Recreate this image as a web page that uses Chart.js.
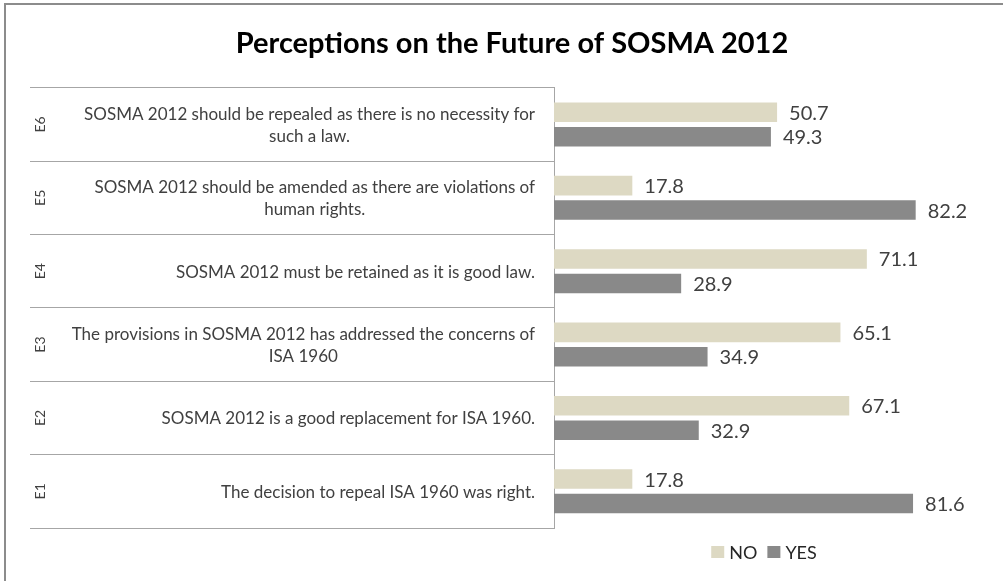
<!DOCTYPE html>
<html><head><meta charset="utf-8">
<script src="https://cdn.jsdelivr.net/npm/chart.js@4.4.0/dist/chart.umd.min.js"></script>
<style>html,body{margin:0;padding:0;background:#fff;} canvas{display:block;}</style>
</head><body>
<canvas id="c" width="1003" height="581"></canvas>
<script>
const categories = ['E6','E5','E4','E3','E2','E1'];
const statements = [
  ['SOSMA 2012 should be repealed as there is no necessity for','such a law.'],
  ['SOSMA 2012 should be amended as there are violations of','human rights.'],
  ['SOSMA 2012 must be retained as it is good law.'],
  ['The provisions in SOSMA 2012 has addressed the concerns of','ISA 1960'],
  ['SOSMA 2012 is a good replacement for ISA 1960.'],
  ['The decision to repeal ISA 1960 was right.']
];
const seriesNames = ['NO','YES'];
const noValues = [50.7, 17.8, 71.1, 65.1, 67.1, 17.8];
const yesValues = [49.3, 82.2, 28.9, 34.9, 32.9, 81.6];
const xMin = 0, xMax = 100;
const titleText = 'Perceptions on the Future of SOSMA 2012';
const seriesColors = ['#DDD9C3', '#898989'];
const FONT = 'Lato, "Open Sans", sans-serif';

const framePlugin = {
  id: 'frame',
  beforeDraw(chart) {
    const ctx = chart.ctx;
    ctx.save();
    ctx.fillStyle = '#fff';
    ctx.fillRect(0, 0, chart.width, chart.height);
    ctx.strokeStyle = '#8c8c8c';
    ctx.lineWidth = 2;
    ctx.strokeRect(5, 4, chart.width + 20, chart.height + 20);
    ctx.restore();
  }
};

const categoryLabelPlugin = {
  id: 'catLabels',
  afterDraw(chart) {
    const ctx = chart.ctx;
    const y = chart.scales.y;
    ctx.save();
    ctx.fillStyle = '#404040';
    categories.forEach((cat, i) => {
      const yc = y.getPixelForValue(i);
      ctx.save();
      ctx.translate(40, yc);
      ctx.rotate(-Math.PI / 2);
      ctx.font = '14px ' + FONT;
      ctx.textAlign = 'center';
      ctx.textBaseline = 'middle';
      ctx.fillText(cat, 0, 0);
      ctx.restore();
      ctx.font = '17px ' + FONT;
      ctx.textBaseline = 'middle';
      ctx.textAlign = 'center';
      const lines = statements[i];
      const w = Math.max(...lines.map(l => ctx.measureText(l).width));
      const right = chart.chartArea.left - 19;
      const cx = right - w / 2;
      const lh = 22;
      const y0 = yc + 1 - (lines.length - 1) * lh / 2;
      lines.forEach((l, k) => ctx.fillText(l, cx, y0 + k * lh));
    });
    ctx.restore();
  }
};

const dataLabelPlugin = {
  id: 'dataLabels',
  afterDatasetsDraw(chart) {
    const ctx = chart.ctx;
    ctx.save();
    ctx.font = '20px ' + FONT;
    ctx.fillStyle = '#404040';
    ctx.textAlign = 'left';
    ctx.textBaseline = 'middle';
    chart.data.datasets.forEach((ds, di) => {
      const meta = chart.getDatasetMeta(di);
      meta.data.forEach((bar, i) => {
        ctx.fillText(ds.data[i].toFixed(1), bar.x + 12, bar.y + 1);
      });
    });
    ctx.restore();
  }
};

const legendPlugin = {
  id: 'customLegend',
  afterDraw(chart) {
    const ctx = chart.ctx;
    ctx.save();
    ctx.font = '18px ' + FONT;
    ctx.textBaseline = 'middle';
    ctx.textAlign = 'left';
    const box = 13, gapBoxText = 5, gapItems = 10;
    const items = chart.data.datasets.map(ds => ({ label: ds.label, color: ds.backgroundColor, w: ctx.measureText(ds.label).width }));
    const total = items.reduce((s, it) => s + box + gapBoxText + it.w, 0) + gapItems * (items.length - 1);
    const cx = (chart.chartArea.left + chart.chartArea.right) / 2 - 10;
    let x = cx - total / 2;
    const yc = 552;
    items.forEach(it => {
      ctx.fillStyle = it.color;
      ctx.fillRect(x, yc - 6, box, 12);
      x += box + gapBoxText;
      ctx.fillStyle = '#262626';
      ctx.fillText(it.label, x, yc + 1);
      x += it.w + gapItems;
    });
    ctx.restore();
  }
};

new Chart(document.getElementById('c'), {
  type: 'bar',
  data: {
    labels: categories,
    datasets: [
      { label: seriesNames[0], data: noValues, backgroundColor: seriesColors[0] },
      { label: seriesNames[1], data: yesValues, backgroundColor: seriesColors[1] }
    ]
  },
  options: {
    indexAxis: 'y',
    responsive: false,
    animation: false,
    devicePixelRatio: 1,
    categoryPercentage: 0.667,
    barPercentage: 0.8,
    layout: { padding: { left: 30, right: 9, top: 0, bottom: 53 } },
    scales: {
      x: { display: false, min: xMin, max: xMax },
      y: {
        grid: { offset: true, drawOnChartArea: false, tickLength: 524, color: '#a6a6a6', lineWidth: 1 },
        border: { color: '#a6a6a6', width: 1 },
        ticks: { display: false }
      }
    },
    plugins: {
      legend: { display: false },
      tooltip: { enabled: false },
      title: {
        display: true,
        text: titleText,
        color: '#000',
        font: { family: FONT, size: 29, weight: 'bold' },
        padding: { top: 26, bottom: 27 }
      }
    }
  },
  plugins: [framePlugin, categoryLabelPlugin, dataLabelPlugin, legendPlugin]
});
</script>
</body></html>
